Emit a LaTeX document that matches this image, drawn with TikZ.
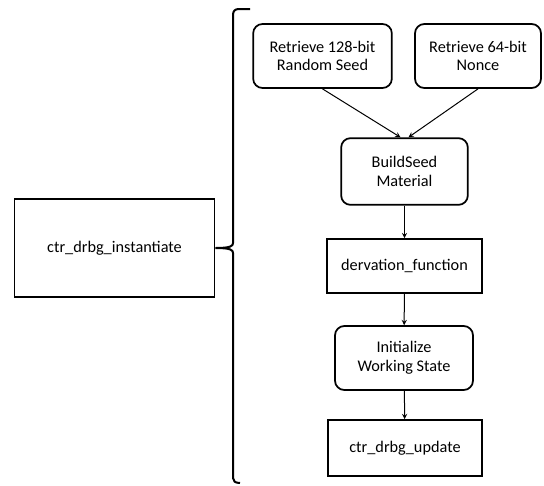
\documentclass[tikz,border=0pt]{standalone}
\usepackage{fontspec}
\setmainfont{Carlito}
\usepackage{tikz}
\usetikzlibrary{shapes,arrows,positioning,calc}

\begin{document}
\begin{tikzpicture}[
    x=0.75pt, y=-0.75pt,
    font=\fontsize{12.2}{14}\selectfont,
    stepbox/.style={rectangle, draw=black, line width=1.3pt, inner sep=0pt, align=center},
    roundbox/.style={stepbox, rounded corners=7pt},
    flow/.style={->, line width=0.75pt},
    >=stealth
]
\useasboundingbox (0,0) rectangle (544,486);

\node[stepbox, minimum width=150pt, minimum height=74pt] (inst) at (114.5,248) {ctr\_drbg\_instantiate};

\node[roundbox, minimum width=104pt, minimum height=48pt] (seed) at (322.5,56) {Retrieve 128-bit\\Random Seed};
\node[roundbox, minimum width=94.5pt, minimum height=48pt] (nonce) at (478,56) {Retrieve 64-bit\\Nonce};
\node[roundbox, minimum width=95pt, minimum height=50pt] (build) at (404.5,171.5) {BuildSeed\\Material};
\node[stepbox, minimum width=116pt, minimum height=40.5pt] (deriv) at (404.5,266) {dervation\_function};
\node[roundbox, minimum width=103.5pt, minimum height=48pt] (init) at (404,358) {Initialize\\Working State};
\node[stepbox, minimum width=115.5pt, minimum height=42pt] (update) at (405,448) {ctr\_drbg\_update};

% Flow
\draw[flow] (seed.south) -- ($(build.north)+(-4,0)$);
\draw[flow] (nonce.south) -- ($(build.north)+(4,0)$);
\draw[flow] (build) -- (deriv);
\draw[flow] (deriv) -- (init);
\draw[flow] (init) -- (update);

% Brace
\draw[line width=1.5pt] (250,9) -- (239,9) .. controls (235,9) and (233,11) .. (233,15)
    -- (233,243) .. controls (233,246) and (231,248) .. (inst.east)
    .. controls (231,248) and (233,250) .. (233,253)
    -- (233,478) .. controls (233,481) and (235,483) .. (240,483);

\end{tikzpicture}
\end{document}
